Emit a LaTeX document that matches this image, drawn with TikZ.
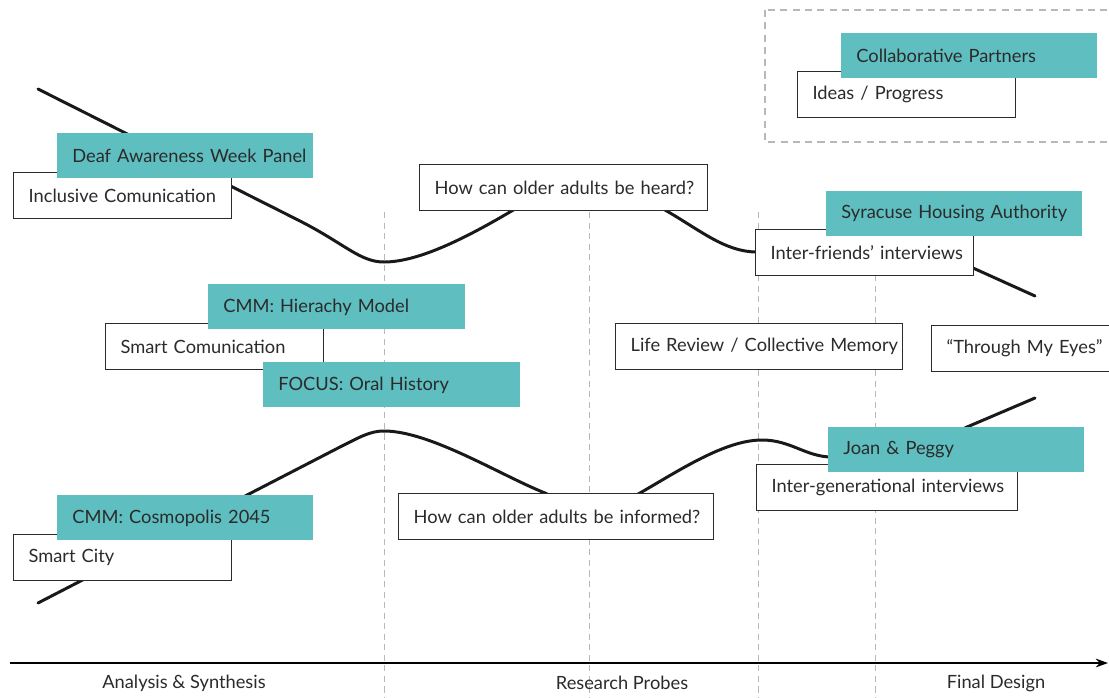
\documentclass[tikz,border=0pt]{standalone}
\usepackage{fontspec}
\setmainfont{Lato}
\usetikzlibrary{arrows.meta}
\definecolor{tealfill}{HTML}{5FBEC0}
\definecolor{inkgray}{HTML}{2B2B2B}
\definecolor{guidegray}{HTML}{B8B8B8}
\begin{document}
\begin{tikzpicture}[x=0.02cm,y=-0.02cm,
        box/.style={anchor=north west,inner xsep=0.3cm,inner ysep=0pt,align=left,
            text=inkgray,font=\fontsize{10.4}{12}\selectfont,text width=#1*0.02cm-0.6cm,
            execute at begin node=\hbox\bgroup,execute at end node=\egroup},
        whitebox/.style={box=#1,draw=inkgray,line width=0.7pt,fill=white,minimum height=0.92cm},
        tealbox/.style={box=#1,fill=tealfill,minimum height=0.9cm},
        guide/.style={draw=guidegray,line width=0.5pt,dash pattern=on 3.5pt off 2.5pt},
        frame/.style={draw=guidegray,line width=0.8pt,dash pattern=on 4pt off 3pt},
        trend/.style={draw=black!90,line width=1.7pt,line cap=round},
        stage/.style={text=inkgray,font=\fontsize{10.4}{12}\selectfont}]
    \clip (0,0) rectangle (1109,697);
    % Guides
    \foreach \gx in {384,589,758,875}
        \draw[guide] (\gx,212) -- (\gx,697);
    \draw[frame] (765,10) rectangle (1130,142);
    % Axis
    \coordinate (axisstart) at (10,663);
    \coordinate (axisend) at (1108,663);
    \draw[line width=0.8pt,-{Stealth[length=7pt,width=5pt]}] (axisstart) -- (axisend);
    \node[stage] (analysis) at (184,683) {Analysis \& Synthesis};
    \node[stage] (probes) at (622,683) {Research Probes};
    \node[stage] (final) at (996,683) {Final Design};
    % Curves
    \draw[trend] (38,89) -- (300,221) .. controls (345,244) and (360,262) .. (384,262)
        .. controls (420,262) and (470,236) .. (520,206)
        .. controls (560,182) and (620,185) .. (665,210)
        .. controls (700,230) and (725,252) .. (757,252)
        .. controls (800,253) and (900,235) .. (973,268) -- (1035,296);
    \draw[trend] (38,603) -- (340,447) .. controls (360,437) and (370,431) .. (384,431)
        .. controls (430,431) and (500,475) .. (545,493)
        .. controls (580,510) and (610,510) .. (640,493)
        .. controls (680,470) and (725,440) .. (762,440)
        .. controls (790,440) and (805,456) .. (830,457)
        .. controls (880,460) and (930,445) .. (967,427) -- (1035,398);
    % Nodes
    \node[whitebox=218] (ideas) at (797,71) {Ideas / Progress};
    \node[tealbox=256] (partners) at (841,33) {Collaborative Partners};
    \node[whitebox=218] (inclusive) at (13,172) {Inclusive Comunication};
    \node[tealbox=256] (deaf) at (57,133) {Deaf Awareness Week Panel};
    \node[whitebox=288] (heard) at (419,164) {How can older adults be heard?};
    \node[whitebox=218] (friends) at (755,229) {Inter-friends’ interviews};
    \node[tealbox=256] (syracuse) at (826,191) {Syracuse Housing Authority};
    \node[whitebox=218] (smartcom) at (105,323) {Smart Comunication};
    \node[tealbox=257] (hierachy) at (208,284) {CMM: Hierachy Model};
    \node[tealbox=257] (focus) at (263,362) {FOCUS: Oral History};
    \node[whitebox=287] (review) at (615,323) {Life Review / Collective Memory};
    \node[whitebox=200] (eyes) at (931,325) {“Through My Eyes”};
    \node[whitebox=218] (smartcity) at (13,534) {Smart City};
    \node[tealbox=256] (cosmopolis) at (57,495) {CMM: Cosmopolis 2045};
    \node[whitebox=315] (informed) at (398,493) {How can older adults be informed?};
    \node[whitebox=261] (intergen) at (756,464) {Inter-generational interviews};
    \node[tealbox=256] (joan) at (828,427) {Joan \& Peggy};
\end{tikzpicture}
\end{document}
